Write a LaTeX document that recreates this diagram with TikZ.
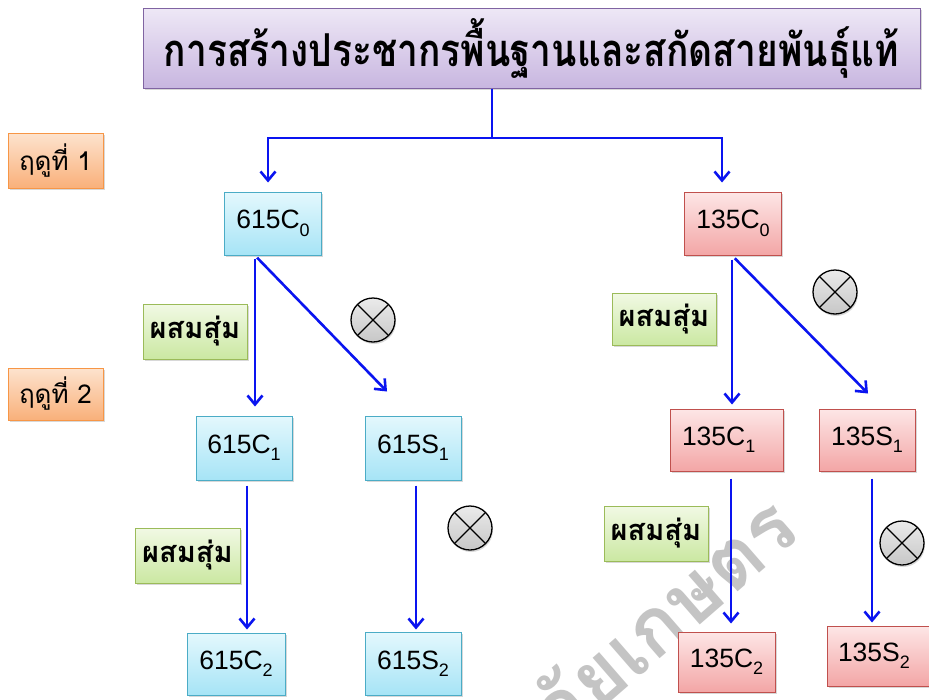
\documentclass[tikz,border=0pt]{standalone}
\usepackage{fontspec}
\setmainfont{Liberation Sans}
\newfontfamily\thaifont[Script=Thai]{Loma}
\usetikzlibrary{arrows.meta,shadows,calc}
\definecolor{arrowblue}{HTML}{0A14F0}
\definecolor{purpB}{HTML}{8064A2}
\definecolor{purpT}{HTML}{EEE8F6}
\definecolor{purpL}{HTML}{C8B6E0}
\definecolor{orB}{HTML}{F79646}
\definecolor{orT}{HTML}{FDE3CE}
\definecolor{orL}{HTML}{F9B07A}
\definecolor{cyB}{HTML}{4BACC6}
\definecolor{cyT}{HTML}{E4F8FD}
\definecolor{cyL}{HTML}{A6E4F6}
\definecolor{rdB}{HTML}{C0504D}
\definecolor{rdT}{HTML}{FDE6E6}
\definecolor{rdL}{HTML}{F3A6A6}
\definecolor{grB}{HTML}{9BBB59}
\definecolor{grT}{HTML}{F1F9E4}
\definecolor{grL}{HTML}{CBE8A2}
\definecolor{wmgrey}{HTML}{C4C4C4}
\newcommand\lowsub[1]{\raisebox{-0.28em}{\fontsize{18}{18}\selectfont #1}}
\tikzset{
  boxbase/.style={draw, line width=1pt, inner sep=0pt, align=center,
    drop shadow={opacity=0.3, shadow xshift=1.5pt, shadow yshift=-2pt}},
  titlebox/.style={boxbase, draw=purpB, top color=purpT, bottom color=purpL,
    minimum width=777pt, minimum height=80pt},
  seasonbox/.style={boxbase, draw=orB, top color=orT, bottom color=orL,
    minimum width=95pt, font=\thaifont\fontsize{26}{28}\selectfont},
  cbox/.style={boxbase, draw=cyB, top color=cyT, bottom color=cyL,
    minimum width=97pt, minimum height=63pt, font=\fontsize{26.5}{28}\selectfont},
  rbox/.style={boxbase, draw=rdB, top color=rdT, bottom color=rdL,
    minimum width=97pt, minimum height=62pt, font=\fontsize{26.5}{28}\selectfont},
  mixbox/.style={boxbase, draw=grB, top color=grT, bottom color=grL,
    minimum width=104pt, minimum height=54pt, font=\thaifont\bfseries\fontsize{29}{30}\selectfont},
  otimesnode/.style={circle, draw=black, line width=1.3pt, minimum size=44pt, inner sep=0pt,
    top color=white!92!black, bottom color=white!78!black,
    drop shadow={opacity=0.3, shadow xshift=1pt, shadow yshift=-2pt},
    path picture={\draw[line width=1.2pt] (path picture bounding box.north west) -- (path picture bounding box.south east)
      (path picture bounding box.north east) -- (path picture bounding box.south west);}},
  conn/.style={draw=arrowblue, line width=2.6pt},
  arr/.style={conn, -{Straight Barb[length=9pt,width=15pt,line width=2.6pt]}}
}
\begin{document}
\begin{tikzpicture}[x=1pt,y=-1pt]
\useasboundingbox (0,0) rectangle (929,699);
\clip (0,0) rectangle (929,699);
\fill[white] (0,0) rectangle (929,699);

% watermark
\node[text=wmgrey, inner sep=0pt, rotate=41, anchor=base east, font=\thaifont\bfseries\fontsize{80}{80}\selectfont] (wm) at (803,535) {ลัยเกษตร};

% title
\node[titlebox] (title) at (531.5,48) {\resizebox*{735pt}{60pt}{\thaifont\bfseries การสร้างประชากรพื้นฐานและสกัดสายพันธุ์แท้}};

% season labels
\node[seasonbox, minimum height=55pt] (s1) at (55.5,160.5) {ฤดูที่ 1};
\node[seasonbox, minimum height=52pt] (s2) at (55.5,394) {ฤดูที่ 2};

% left lineage
\node[cbox] (c0L) at (273,223.5) {615C\lowsub{0}};
\node[cbox, minimum width=96pt, minimum height=64pt] (c1L) at (244,448) {615C\lowsub{1}};
\node[cbox, minimum width=96pt, minimum height=64pt] (s1L) at (413,448) {615S\lowsub{1}};
\node[cbox, minimum width=98pt, minimum height=62pt] (c2L) at (236,664) {615C\lowsub{2}};
\node[cbox, minimum width=96pt, minimum height=63pt] (s2L) at (413,663.5) {615S\lowsub{2}};

% right lineage
\node[rbox, minimum height=63pt] (c0R) at (733,223.5) {135C\lowsub{0}};
\node[rbox, minimum width=113pt, text width=89pt, align=left] (c1R) at (726.5,440) {135C\lowsub{1}};
\node[rbox, minimum width=96pt] (s1R) at (867,440) {135S\lowsub{1}};
\node[rbox, minimum height=60pt] (c2R) at (726.5,662) {135C\lowsub{2}};
\node[rbox, minimum width=106pt, minimum height=60pt, text width=96pt, align=left] (s2R) at (880,656) {\hspace*{6pt}135S\lowsub{2}};

% mixing labels
\node[mixbox, minimum height=55pt] (mL1) at (195,331.5) {ผสมสุ่ม};
\node[mixbox, minimum width=105pt, minimum height=55pt] (mL2) at (187.5,555.5) {ผสมสุ่ม};
\node[mixbox, minimum height=52pt] (mR1) at (664,319) {ผสมสุ่ม};
\node[mixbox, minimum height=55pt] (mR2) at (656,533.5) {ผสมสุ่ม};

% selfing symbols
\node[otimesnode] (xL1) at (373,320) {};
\node[otimesnode] (xL2) at (470,528) {};
\node[otimesnode] (xR1) at (835,292) {};
\node[otimesnode] (xR2) at (902,543) {};

% top split
\coordinate (split) at (492,138);
\draw[conn] (title.south -| split) -- (split);
\draw[arr, shorten >=9pt] (split) -| ([xshift=-5pt]c0L.north);
\draw[arr, shorten >=9pt] (split) -| ([xshift=-11pt]c0R.north);

% left arrows
\draw[arr, shorten <=3pt, shorten >=9pt] ([xshift=-18pt]c0L.south) -- ([xshift=-18pt]c0L.south |- c1L.north);
\draw[arr, shorten <=3pt] ([xshift=-18pt]c0L.south) -- ([xshift=-26pt,yshift=24pt]s1L.north);
\draw[arr, shorten <=5pt, shorten >=3pt] ([xshift=3pt]c1L.south) -- ([xshift=3pt]c1L.south |- c2L.north);
\draw[arr, shorten <=5pt, shorten >=2pt] ([xshift=3pt]s1L.south) -- ([xshift=3pt]s1L.south |- s2L.north);

% right arrows
\draw[arr, shorten <=4pt, shorten >=4pt] ([xshift=-1pt]c0R.south) -- ([xshift=-1pt]c0R.south |- c1R.north);
\draw[arr, shorten <=4pt] ([xshift=-1pt]c0R.south) -- ([xshift=1pt,yshift=15pt]s1R.north);
\draw[arr, shorten <=7pt, shorten >=8pt] ([xshift=4.5pt]c1R.south) -- ([xshift=4.5pt]c1R.south |- c2R.north);
\draw[arr, shorten <=7pt, shorten >=3pt] ([xshift=5pt]s1R.south) -- ([xshift=5pt]s1R.south |- s2R.north);
\end{tikzpicture}
\end{document}
